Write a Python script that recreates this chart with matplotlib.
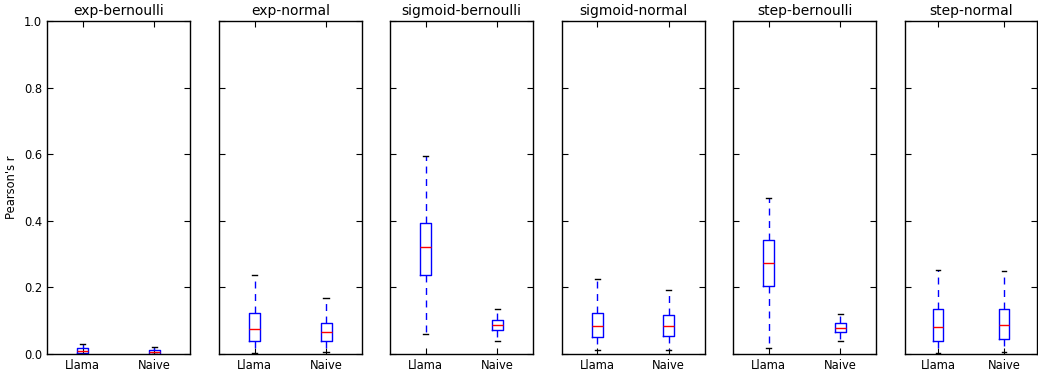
import matplotlib
matplotlib.use('Agg')
import matplotlib.pyplot as plt

# summary stats: (whislo, q1, med, q3, whishi)
titles = ['exp-bernoulli', 'exp-normal', 'sigmoid-bernoulli',
          'sigmoid-normal', 'step-bernoulli', 'step-normal']
methods = ['Llama', 'Naive']

llama_stats = [
    (0.000, 0.002, 0.010, 0.017, 0.031),
    (0.002, 0.039, 0.075, 0.124, 0.237),
    (0.059, 0.237, 0.321, 0.394, 0.595),
    (0.011, 0.051, 0.084, 0.124, 0.225),
    (0.018, 0.205, 0.273, 0.342, 0.469),
    (0.004, 0.039, 0.081, 0.136, 0.252),
]
naive_stats = [
    (0.000, 0.001, 0.007, 0.011, 0.020),
    (0.005, 0.038, 0.065, 0.094, 0.167),
    (0.040, 0.073, 0.087, 0.101, 0.136),
    (0.013, 0.054, 0.083, 0.116, 0.193),
    (0.040, 0.065, 0.079, 0.093, 0.119),
    (0.005, 0.045, 0.086, 0.136, 0.250),
]


def to_dict(s, label):
    lo, q1, med, q3, hi = s
    return dict(whislo=lo, q1=q1, med=med, q3=q3, whishi=hi, fliers=[], label=label)


W, H = 1038, 377
fig = plt.figure(figsize=(W / 100, H / 100), dpi=100)

lefts = [47, 218.7, 390, 561.5, 733, 905]
widths = [143, 143.3, 143, 143, 143, 132]
bottom, top = 354, 21

axes = []
for i, title in enumerate(titles):
    ax = fig.add_axes([lefts[i] / W, (H - bottom) / H, widths[i] / W, (bottom - top) / H],
                      sharey=axes[0] if axes else None)
    axes.append(ax)
    stats = [to_dict(llama_stats[i], methods[0]), to_dict(naive_stats[i], methods[1])]
    ax.bxp(stats, positions=[1, 2], widths=0.15, showfliers=False,
           boxprops=dict(color='b', linewidth=1),
           whiskerprops=dict(color='b', linestyle=(0, (5, 4)), linewidth=1),
           capprops=dict(color='k', linewidth=1),
           medianprops=dict(color='r', linewidth=1))
    ax.set_xlim(0.5, 2.5)
    ax.set_ylim(0, 1.0)
    ax.set_title(title, fontsize=10, pad=4)
    ax.tick_params(direction='in', top=True, right=True, length=4, labelsize=8.3)
    ax.set_xticks([1, 2])
    ax.set_xticklabels(methods)
    for sp in ax.spines.values():
        sp.set_linewidth(1)
    if i > 0:
        ax.tick_params(labelleft=False)

axes[0].set_yticks([0.0, 0.2, 0.4, 0.6, 0.8, 1.0])
axes[0].set_ylabel("Pearson's r", fontsize=8.3)

fig.savefig('out.png', dpi=100)
